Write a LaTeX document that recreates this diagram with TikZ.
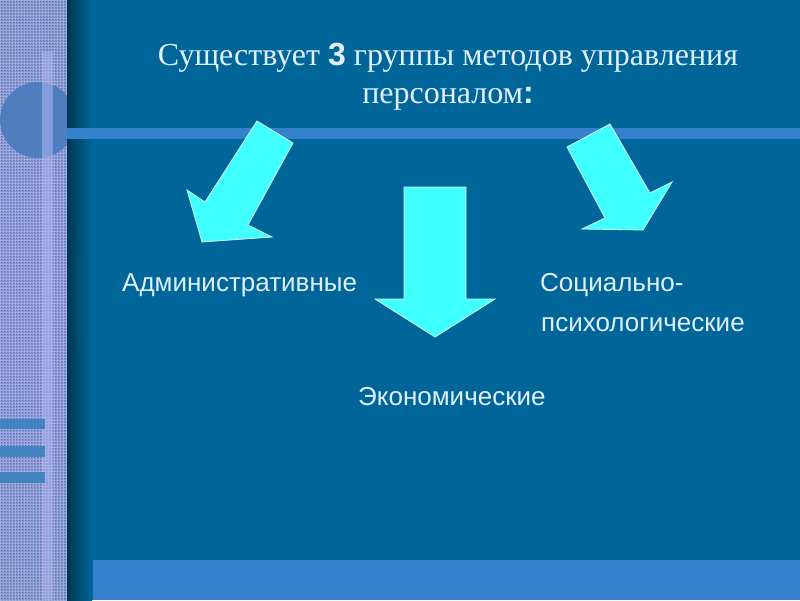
\documentclass[tikz,border=0pt]{standalone}
\usepackage{fontspec}
\setmainfont{Liberation Serif}
\newfontfamily\arial{Liberation Sans}
\usetikzlibrary{patterns}
\definecolor{bg}{RGB}{0,102,153}
\definecolor{barblue}{RGB}{51,128,204}
\definecolor{strip}{RGB}{126,146,204}
\definecolor{striplav}{RGB}{136,146,222}
\definecolor{stripe}{RGB}{178,182,240}
\definecolor{circ}{RGB}{74,124,190}
\definecolor{tealbar}{RGB}{52,128,190}
\definecolor{cyanarrow}{RGB}{64,255,255}
\definecolor{txt}{RGB}{225,240,255}
\tikzset{
  blockarrow/.style={fill=cyanarrow, draw=white!85!cyan, line width=0.8pt, line join=miter},
  title/.style={text=txt, font=\fontsize{32}{38}\selectfont, align=center, inner sep=0pt},
  label/.style={text=txt, font=\arial\fontsize{26}{30}\selectfont, inner sep=0pt, anchor=west}
}
\begin{document}
\begin{tikzpicture}[x=1pt,y=-1pt]
\useasboundingbox (0,0) rectangle (800,600);
% main background
\fill[bg] (0,0) rectangle (800,600);
% left textured strip
\shade[top color=strip, bottom color=strip, middle color=striplav] (0,0) rectangle (67,600);
\fill[pattern=crosshatch dots, pattern color=blue!30!black, opacity=0.3] (0,0) rectangle (67,600);
\fill[pattern=grid, pattern color=white, opacity=0.2] (0,0) rectangle (67,600);
% circle in strip
\begin{scope}
  \clip (0,0) rectangle (67,600);
  \fill[circ, opacity=0.92] (38,120) circle (38);
\end{scope}
% light vertical stripe
\fill[stripe, opacity=0.55] (42,52) rectangle (53,600);
% three short bars
\fill[tealbar, opacity=0.85] (0,419) rectangle (45,429);
\fill[tealbar, opacity=0.85] (0,446) rectangle (45,457);
\fill[tealbar, opacity=0.85] (0,472) rectangle (45,483);
% shadow of strip
\shade[left color=bg!55!black, right color=bg] (67,0) rectangle (92,600);
% horizontal bar
\fill[barblue] (67,128) rectangle (800,139);
% bottom bar
\fill[barblue] (93,560) rectangle (800,600);
% title
\node[title] (title) at (448,77) {Существует {\arial\bfseries 3} группы методов управления\\персоналом{\arial\bfseries :}};
% arrows
\draw[blockarrow] (257,121) -- (293,143) -- (248,225) -- (272,237) -- (202,242) -- (187,190) -- (205,202) -- cycle;
\draw[blockarrow] (404,187) -- (466,187) -- (466,299) -- (495,299) -- (435,337) -- (375,299) -- (404,299) -- cycle;
\draw[blockarrow] (610,124) -- (650,193) -- (672,182) -- (643,230) -- (582,229) -- (605,218) -- (567,147) -- cycle;
% labels
\node[label] (adm) at (122,285) {Административные};
\node[label] (soc) at (540,285) {Социально-};
\node[label] (psy) at (541,325) {психологические};
\node[label] (eco) at (358,397) {Экономические};
\end{tikzpicture}
\end{document}
